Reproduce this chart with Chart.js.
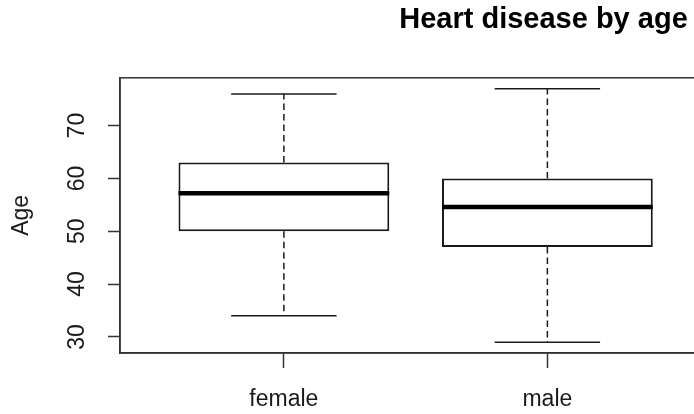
<!DOCTYPE html>
<html>
<head>
<meta charset="utf-8">
<script src="https://cdn.jsdelivr.net/npm/chart.js@4.4.1/dist/chart.umd.min.js"></script>
<style>
html, body { margin: 0; padding: 0; background: #fff; overflow: hidden; }
#wrap { width: 694px; height: 414px; overflow: hidden; }
</style>
</head>
<body>
<div id="wrap"><canvas id="boxChart" width="1087" height="414"></canvas></div>
<script>
// --- donnees ---
const categories = ['female', 'male'];
const whiskerLow = [34, 29];
const quart1 = [50, 47];
const medians = [57.2, 54.6];
const quart3 = [63, 60];
const whiskerHigh = [76, 77];
const yTicks = [30, 40, 50, 60, 70];

const FONT = "'Liberation Sans', Arial, sans-serif";
const INK = '#1a1a1a';

// moustaches, caps, medianes + cadre du graphe
const boxExtras = {
    id: 'boxExtras',
    afterDatasetsDraw(chart) {
        const ctx = chart.ctx, xs = chart.scales.x, ys = chart.scales.y;
        ctx.save();
        categories.forEach((c, i) => {
            const cx = xs.getPixelForValue(i + 1);
            const halfBox = xs.getPixelForValue(i + 1.4) - cx;
            const halfCap = halfBox / 2;
            const yHi = ys.getPixelForValue(whiskerHigh[i]), yLo = ys.getPixelForValue(whiskerLow[i]);

            ctx.strokeStyle = INK; ctx.lineWidth = 1.5;
            ctx.setLineDash([6.5, 4]);
            ctx.beginPath();
            ctx.moveTo(cx, ys.getPixelForValue(quart3[i])); ctx.lineTo(cx, yHi);
            ctx.moveTo(cx, ys.getPixelForValue(quart1[i])); ctx.lineTo(cx, yLo);
            ctx.stroke();
            ctx.setLineDash([]);

            ctx.beginPath();
            ctx.moveTo(cx - halfCap, yHi); ctx.lineTo(cx + halfCap, yHi);
            ctx.moveTo(cx - halfCap, yLo); ctx.lineTo(cx + halfCap, yLo);
            ctx.stroke();

            const ym = ys.getPixelForValue(medians[i]);
            ctx.strokeStyle = '#000'; ctx.lineWidth = 4.5;
            ctx.beginPath();
            ctx.moveTo(cx - halfBox, ym); ctx.lineTo(cx + halfBox, ym);
            ctx.stroke();
        });
        const a = chart.chartArea;
        ctx.strokeStyle = '#333'; ctx.lineWidth = 1.5;
        ctx.strokeRect(a.left, a.top, a.right - a.left, a.bottom - a.top);
        ctx.restore();
    }
};

new Chart(document.getElementById('boxChart'), {
    type: 'bar',
    data: {
        datasets: [{
            data: categories.map((c, i) => ({ x: i + 1, y: [quart1[i], quart3[i]] })),
            backgroundColor: '#fff',
            borderColor: INK,
            borderWidth: 2,
            borderSkipped: false,
            categoryPercentage: 1,
            barPercentage: 0.8
        }]
    },
    options: {
        responsive: false,
        animation: false,
        events: [],
        layout: { padding: 0 },
        plugins: {
            legend: { display: false },
            tooltip: { enabled: false },
            title: {
                display: true,
                text: 'Heart disease by age',
                color: '#000',
                font: { family: FONT, size: 29, weight: 'bold' },
                padding: { top: 3, bottom: 40 }
            }
        },
        scales: {
            x: {
                type: 'linear',
                offset: false,
                min: 0.378, max: 4.048,
                afterBuildTicks: s => { s.ticks = categories.map((c, i) => ({ value: i + 1 })); },
                afterFit: s => { s.height = 61; },
                border: { display: true, color: '#333', width: 1.5 },
                grid: { offset: false, drawOnChartArea: false, tickLength: 15, tickWidth: 1.5, tickColor: '#333' },
                ticks: {
                    callback: v => categories[v - 1],
                    autoSkip: false, maxRotation: 0,
                    color: INK, font: { family: FONT, size: 23 }, padding: 18
                }
            },
            y: {
                min: 26.95, max: 79.05,
                afterBuildTicks: s => { s.ticks = yTicks.map(v => ({ value: v })); },
                afterFit: s => { s.width = 120; },
                border: { display: true, color: '#333', width: 1.5 },
                grid: { drawOnChartArea: false, tickLength: 12, tickWidth: 1.5, tickColor: '#333' },
                ticks: {
                    color: INK, font: { family: FONT, size: 23 },
                    minRotation: 90, maxRotation: 90, crossAlign: 'center', padding: 18
                },
                title: {
                    display: true, text: 'Age', color: INK,
                    font: { family: FONT, size: 23 }, padding: { top: 8, bottom: 0 }
                }
            }
        }
    },
    plugins: [boxExtras]
});
</script>
</body>
</html>
